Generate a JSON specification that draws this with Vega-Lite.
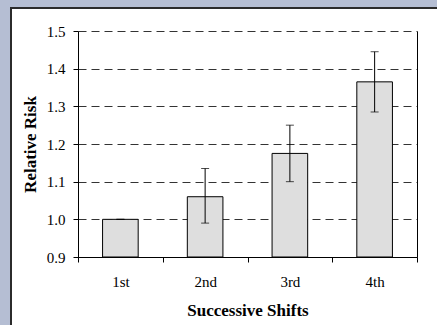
{
  "$schema": "https://vega.github.io/schema/vega-lite/v6.json",
  "width": 427,
  "height": 318,
  "autosize": {"type": "none"},
  "padding": {"left": 11, "top": 8, "right": -1, "bottom": -1},
  "background": "#B5BED3",
  "view": {"fill": "white", "stroke": "#2b2b2b", "strokeWidth": 2},
  "config": {
    "font": "Liberation Serif",
    "axis": {
      "domainColor": "black",
      "tickColor": "black",
      "labelColor": "black",
      "titleColor": "black",
      "labelFont": "Liberation Serif",
      "titleFont": "Liberation Serif",
      "labelFontSize": 15,
      "titleFontSize": 17,
      "titleFontWeight": "bold"
    }
  },
  "data": {
    "values": [
      {"shift": "1st", "rr": 1.0, "lo": 1.0, "hi": 1.0},
      {"shift": "2nd", "rr": 1.06, "lo": 0.99, "hi": 1.135},
      {"shift": "3rd", "rr": 1.175, "lo": 1.1, "hi": 1.25},
      {"shift": "4th", "rr": 1.365, "lo": 1.285, "hi": 1.445}
    ]
  },
  "layer": [
    {
      "mark": {"type": "bar", "fill": "#dedede", "stroke": "black", "strokeWidth": 1, "width": {"band": 0.42}},
      "encoding": {
        "x": {
          "field": "shift",
          "type": "nominal",
          "sort": null,
          "scale": {"range": [67, 406], "paddingInner": 0, "paddingOuter": 0},
          "axis": {
            "orient": "bottom",
            "offset": -69,
            "tickBand": "extent",
            "tickSize": 5,
            "labelAngle": 0,
            "labelBaseline": "alphabetic",
            "labelPadding": 24,
            "grid": false,
            "title": "Successive Shifts",
            "titleX": 236.5,
            "titleY": 58,
            "titleBaseline": "alphabetic"
          }
        },
        "y": {
          "field": "rr",
          "type": "quantitative",
          "scale": {"domain": [0.9, 1.5], "range": [249, 23], "zero": false, "nice": false},
          "axis": {
            "orient": "left",
            "offset": -67,
            "values": [0.9, 1.0, 1.1, 1.2, 1.3, 1.4, 1.5],
            "format": ".1f",
            "grid": true,
            "gridColor": "#333333",
            "gridDash": [8, 5],
            "gridWidth": 1,
            "tickSize": 5,
            "labelPadding": 8,
            "title": "Relative Risk",
            "titleX": -43,
            "titleY": 136,
            "titleAngle": -90,
            "titleBaseline": "alphabetic"
          }
        },
        "y2": {"datum": 0.9}
      }
    },
    {
      "mark": {"type": "errorbar", "ticks": true, "size": 8, "thickness": 1, "color": "black"},
      "encoding": {
        "x": {"field": "shift", "type": "nominal", "sort": null},
        "y": {
          "field": "lo",
          "type": "quantitative",
          "scale": {"domain": [0.9, 1.5], "range": [249, 23], "zero": false, "nice": false},
          "axis": {
            "orient": "right",
            "offset": -21,
            "labels": false,
            "ticks": false,
            "grid": false,
            "title": null
          }
        },
        "y2": {"field": "hi"}
      }
    }
  ],
  "resolve": {"axis": {"y": "independent"}}
}
